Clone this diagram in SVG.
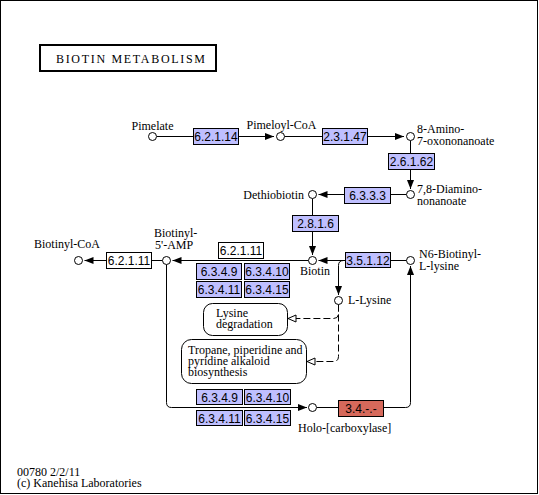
<svg xmlns="http://www.w3.org/2000/svg" width="539" height="495" viewBox="0 0 539 495">
<style>
text{font-family:"Liberation Serif","Times New Roman",serif;font-size:12px;fill:#000}
.ec{font-family:"Liberation Sans",Arial,sans-serif;font-size:12px;text-anchor:middle}
.enz{fill:#bfbfff;stroke:#000;stroke-width:1}
.wht{fill:#fff;stroke:#000;stroke-width:1}
.red{fill:#d6695b;stroke:#000;stroke-width:1}
.cpd{fill:#fff;stroke:#000;stroke-width:1}
.map{fill:#fff;stroke:#000;stroke-width:1}
.ln{fill:none;stroke:#000;stroke-width:1}
.ds{fill:none;stroke:#000;stroke-width:1;stroke-dasharray:7,3}
</style>
<defs>
<marker id="ah" markerUnits="userSpaceOnUse" markerWidth="12" markerHeight="10" refX="9" refY="4" orient="auto" viewBox="0 0 12 10">
<path d="M0,0.5 L9,4 L0,7.5 z" fill="#000"/>
</marker>
<marker id="oh" markerUnits="userSpaceOnUse" markerWidth="12" markerHeight="10" refX="9" refY="5" orient="auto" viewBox="0 0 12 10">
<path d="M1,1.5 L9,5 L1,8.5 z" fill="#fff" stroke="#000" stroke-width="1"/>
</marker>
</defs>
<rect x="0.5" y="0.5" width="537" height="493" fill="#fff" stroke="#000" stroke-width="1"/>
<g id="title">
<rect x="40" y="45" width="176" height="26" fill="#fff" stroke="#000" stroke-width="2"/>
<text x="56" y="63" font-size="13" textLength="149" lengthAdjust="spacing">BIOTIN METABOLISM</text>
</g>
<g id="connectors">
<path class="ln" d="M157,136.5 H274" marker-end="url(#ah)"/>
<path class="ln" d="M284.5,136.5 H404" marker-end="url(#ah)"/>
<path class="ln" d="M410.5,140.5 V189" marker-end="url(#ah)"/>
<path class="ln" d="M406.5,194.5 H318.5" marker-end="url(#ah)"/>
<path class="ln" d="M312.5,198.5 V255" marker-end="url(#ah)"/>
<path class="ln" d="M406.5,260.5 H318.5" marker-end="url(#ah)"/>
<path class="ln" d="M345,260.5 H343.5 Q338.5,260.5 338.5,265.5 V295" marker-end="url(#ah)"/>
<path class="ln" d="M308.5,260.5 H172.5" marker-end="url(#ah)"/>
<path class="ln" d="M162.5,260.5 H84.5" marker-end="url(#ah)"/>
<path class="ln" d="M166.5,264.5 V402.5 Q166.5,407.5 171.5,407.5 H307" marker-end="url(#ah)"/>
<path class="ln" d="M317,407.5 H405.5 Q410.5,407.5 410.5,402.5 V266" marker-end="url(#ah)"/>
<path class="ds" d="M338.5,304.5 V313.5 Q338.5,318.5 333.5,318.5 H288" marker-end="url(#oh)"/>
<path class="ds" d="M338.5,304.5 V356.5 Q338.5,361.5 333.5,361.5 H307" marker-end="url(#oh)"/>
</g>
<g id="n_pimelate"><circle class="cpd" cx="152.5" cy="136.5" r="4"/><text x="152.5" y="130" text-anchor="middle">Pimelate</text></g>
<g id="n_pimeloylcoa"><circle class="cpd" cx="280.5" cy="136.5" r="4"/><text x="281.5" y="129" text-anchor="middle">Pimeloyl-CoA</text></g>
<g id="n_8amino"><circle class="cpd" cx="410.5" cy="136.5" r="4"/><text x="417" y="133">8-Amino-</text><text x="417" y="145">7-oxononanoate</text></g>
<g id="n_78diamino"><circle class="cpd" cx="410.5" cy="194.5" r="4"/><text x="417" y="193">7,8-Diamino-</text><text x="417" y="205">nonanoate</text></g>
<g id="n_dethiobiotin"><circle class="cpd" cx="312.5" cy="194.5" r="4"/><text x="304" y="199" text-anchor="end">Dethiobiotin</text></g>
<g id="n_biotin"><circle class="cpd" cx="312.5" cy="260.5" r="4"/><text x="300" y="275">Biotin</text></g>
<g id="n_n6biotinyl"><circle class="cpd" cx="410.5" cy="260.5" r="4"/><text x="419" y="258">N6-Biotinyl-</text><text x="419" y="270">L-lysine</text></g>
<g id="n_llysine"><circle class="cpd" cx="338.5" cy="300.5" r="4"/><text x="348" y="304">L-Lysine</text></g>
<g id="n_biotinylamp"><circle class="cpd" cx="166.5" cy="260.5" r="4"/><text x="154" y="237">Biotinyl-</text><text x="155" y="249">5'-AMP</text></g>
<g id="n_biotinylcoa"><circle class="cpd" cx="78.5" cy="260.5" r="4"/><text x="34" y="248">Biotinyl-CoA</text></g>
<g id="n_holo"><circle class="cpd" cx="312.5" cy="407.5" r="4"/><text x="298" y="432">Holo-[carboxylase]</text></g>
<g id="m_lysdeg"><rect class="map" x="203.5" y="303.5" width="84" height="32" rx="9"/><text x="216" y="317">Lysine</text><text x="216" y="328">degradation</text></g>
<g id="m_tropane"><rect class="map" x="181.5" y="339.5" width="125" height="44" rx="10"/><text x="188" y="354">Tropane, piperidine and</text><text x="188" y="365">pyridine alkaloid</text><text x="188" y="376">biosynthesis</text></g>
<g id="e_62114"><rect class="enz" x="193.5" y="128.5" width="45" height="16"/><text class="ec" x="216" y="141">6.2.1.14</text></g>
<g id="e_23147"><rect class="enz" x="322.5" y="128.5" width="45" height="16"/><text class="ec" x="345" y="141">2.3.1.47</text></g>
<g id="e_26162"><rect class="enz" x="388.5" y="153.5" width="46" height="16"/><text class="ec" x="411.5" y="166">2.6.1.62</text></g>
<g id="e_6333"><rect class="enz" x="344.5" y="187.5" width="46" height="16"/><text class="ec" x="367.5" y="200">6.3.3.3</text></g>
<g id="e_2816"><rect class="enz" x="292.5" y="215.5" width="46" height="16"/><text class="ec" x="315.5" y="228">2.8.1.6</text></g>
<g id="e_35112"><rect class="enz" x="345.5" y="252.5" width="45" height="15"/><text class="ec" x="368" y="265">3.5.1.12</text></g>
<g id="e_62111a"><rect class="wht" x="106.5" y="252.5" width="45" height="16"/><text class="ec" x="129" y="265">6.2.1.11</text></g>
<g id="e_62111b"><rect class="wht" x="218.5" y="242.5" width="45" height="16"/><text class="ec" x="241" y="255">6.2.1.11</text></g>
<g id="e_top"><rect class="enz" x="196.5" y="263.5" width="45" height="16"/><text class="ec" x="219" y="276">6.3.4.9</text>
<rect class="enz" x="244.5" y="263.5" width="45" height="16"/><text class="ec" x="267" y="276">6.3.4.10</text>
<rect class="enz" x="196.5" y="281.5" width="45" height="16"/><text class="ec" x="219" y="294">6.3.4.11</text>
<rect class="enz" x="244.5" y="281.5" width="45" height="16"/><text class="ec" x="267" y="294">6.3.4.15</text></g>
<g id="e_bottom"><rect class="enz" x="196.5" y="389.5" width="46" height="15"/><text class="ec" x="219.5" y="402">6.3.4.9</text>
<rect class="enz" x="244.5" y="389.5" width="46" height="15"/><text class="ec" x="267.5" y="402">6.3.4.10</text>
<rect class="enz" x="196.5" y="410.5" width="46" height="15"/><text class="ec" x="219.5" y="423">6.3.4.11</text>
<rect class="enz" x="244.5" y="410.5" width="46" height="15"/><text class="ec" x="267.5" y="423">6.3.4.15</text></g>
<g id="e_34"><rect class="red" x="338.5" y="400.5" width="45" height="16"/><text class="ec" x="361" y="413">3.4.-.-</text></g>
<g id="footer"><text x="17" y="476">00780 2/2/11</text><text x="17" y="487">(c) Kanehisa Laboratories</text></g>
</svg>
